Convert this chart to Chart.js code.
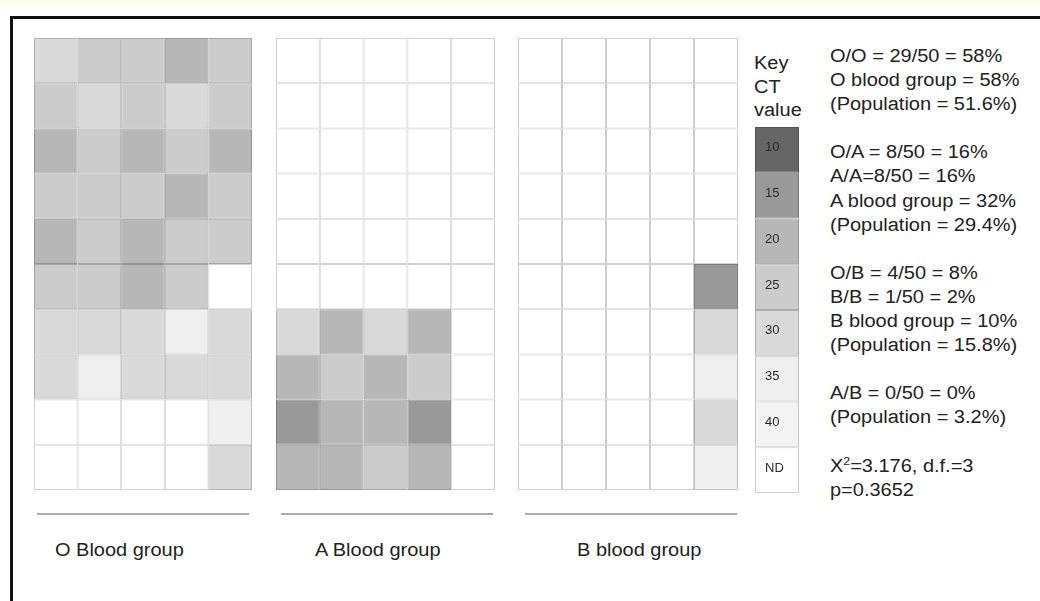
<!DOCTYPE html>
<html>
<head>
<meta charset="utf-8">
<script src="https://cdn.jsdelivr.net/npm/chart.js@4.4.1/dist/chart.umd.min.js"></script>
<style>
  html, body { margin:0; padding:0; background:#fff; width:1040px; height:601px; overflow:hidden; }
  #band { position:absolute; left:0; top:0; width:1040px; height:4px; background:#fffbe9; }
  #frame { position:absolute; left:10px; top:16px; width:1100px; height:700px; border:3px solid #111; box-sizing:border-box; }
  canvas { position:absolute; }
  .txt { position:absolute; font-family:"Liberation Sans", Arial, sans-serif; font-size:18px; color:#222;
         transform:scaleX(1.11); transform-origin:0 0; white-space:nowrap; }
  .rule { position:absolute; height:2px; background:#a8a8a8; }
  sup { font-size:11px; vertical-align:7px; line-height:0; }
</style>
</head>
<body>
<div id="band"></div>
<div id="frame"></div>

<canvas id="gO" width="218" height="452" style="left:34px;top:38px"></canvas>
<canvas id="gA" width="219" height="452" style="left:276px;top:38px"></canvas>
<canvas id="gB" width="220" height="452" style="left:518px;top:38px"></canvas>
<canvas id="gKey" width="44" height="366" style="left:755px;top:127px"></canvas>

<div class="rule" style="left:37px;top:513px;width:212px"></div>
<div class="rule" style="left:281px;top:513px;width:212px"></div>
<div class="rule" style="left:525px;top:513px;width:212px"></div>

<div class="txt" style="left:55px;top:538px;line-height:24px">O Blood group</div>
<div class="txt" style="left:315px;top:538px;line-height:24px">A Blood group</div>
<div class="txt" style="left:577px;top:538px;line-height:24px">B blood group</div>

<div class="txt" id="keyTitle" style="left:754px;top:52px;line-height:23.5px"></div>
<div class="txt" id="stats" style="left:830px;top:44px;line-height:24.1px"></div>

<script>
// ---- data ----
const columns = ['1', '2', '3', '4', '5'];
const keyTitle = ['Key', 'CT', 'value'];
const keyValues = [10, 15, 20, 25, 30, 35, 40, 'ND'];
const keyColors = ['#666666', '#999999', '#b7b7b7', '#cccccc', '#d9d9d9', '#efefef', '#f3f3f3', '#ffffff'];

// CT value per cell, rows listed top to bottom; null = ND
const oGroup = [
  [30, 25, 25, 20, 25],
  [25, 30, 25, 30, 25],
  [20, 25, 20, 25, 20],
  [25, 25, 25, 20, 25],
  [20, 25, 20, 25, 25],
  [25, 25, 20, 25, null],
  [30, 30, 30, 35, 30],
  [30, 35, 30, 30, 30],
  [null, null, null, null, 35],
  [null, null, null, null, 30]
];
const aGroup = [
  [null, null, null, null, null],
  [null, null, null, null, null],
  [null, null, null, null, null],
  [null, null, null, null, null],
  [null, null, null, null, null],
  [null, null, null, null, null],
  [30, 20, 30, 20, null],
  [20, 25, 20, 25, null],
  [15, 20, 20, 15, null],
  [20, 20, 25, 20, null]
];
const bGroup = [
  [null, null, null, null, null],
  [null, null, null, null, null],
  [null, null, null, null, null],
  [null, null, null, null, null],
  [null, null, null, null, null],
  [null, null, null, null, 15],
  [null, null, null, null, 30],
  [null, null, null, null, 35],
  [null, null, null, null, 30],
  [null, null, null, null, 35]
];

const statsLines = [
  'O/O = 29/50 = 58%',
  'O blood group = 58%',
  '(Population = 51.6%)',
  '',
  'O/A = 8/50 = 16%',
  'A/A=8/50 = 16%',
  'A blood group = 32%',
  '(Population = 29.4%)',
  '',
  'O/B = 4/50 = 8%',
  'B/B = 1/50 = 2%',
  'B blood group = 10%',
  '(Population = 15.8%)',
  '',
  'A/B = 0/50 = 0%',
  '(Population = 3.2%)',
  '',
  'X<sup>2</sup>=3.176, d.f.=3',
  'p=0.3652'
];

// ---- helpers ----
function colorFor(v) {
  const i = keyValues.indexOf(v === null ? 'ND' : v);
  return keyColors[i >= 0 ? i : keyColors.length - 1];
}
function borderFor(v) {
  const c = colorFor(v);
  const g = parseInt(c.slice(1, 3), 16);
  const d = Math.round(g * 0.81);
  return 'rgb(' + d + ',' + d + ',' + d + ')';
}

function gridChart(id, rows) {
  const datasets = rows.slice().reverse().map(row => ({
    data: row.map(() => 1),
    backgroundColor: row.map(colorFor),
    borderColor: row.map(borderFor),
    borderWidth: 1,
    borderSkipped: false,
    inflateAmount: 0,
    categoryPercentage: 1,
    barPercentage: 1
  }));
  return new Chart(document.getElementById(id), {
    type: 'bar',
    data: { labels: columns, datasets },
    options: {
      responsive: false,
      animation: false,
      events: [],
      layout: { padding: 0 },
      plugins: { legend: { display: false }, tooltip: { enabled: false } },
      scales: {
        x: { stacked: true, display: false },
        y: { stacked: true, display: false, min: 0, max: rows.length }
      }
    }
  });
}

gridChart('gO', oGroup);
gridChart('gA', aGroup);
gridChart('gB', bGroup);

// key
const keyLabelPlugin = {
  id: 'keyLabels',
  afterDatasetsDraw(chart) {
    const ctx = chart.ctx;
    ctx.save();
    ctx.font = '13px "Liberation Sans", Arial, sans-serif';
    ctx.fillStyle = '#2a2a2a';
    ctx.textBaseline = 'middle';
    ctx.textAlign = 'left';
    chart.data.datasets.forEach((ds, i) => {
      const bar = chart.getDatasetMeta(i).data[0];
      const yc = (bar.y + bar.base) / 2 - 2;
      ctx.fillText(ds.label, bar.x - bar.width / 2 + 10, yc);
    });
    ctx.restore();
  }
};
new Chart(document.getElementById('gKey'), {
  type: 'bar',
  data: {
    labels: ['key'],
    datasets: keyValues.slice().reverse().map(v => ({
      label: String(v),
      data: [1],
      backgroundColor: colorFor(v),
      borderColor: borderFor(v),
      borderWidth: 1,
      borderSkipped: false,
      inflateAmount: 0,
      categoryPercentage: 1,
      barPercentage: 1
    }))
  },
  options: {
    responsive: false,
    animation: false,
    events: [],
    layout: { padding: 0 },
    plugins: { legend: { display: false }, tooltip: { enabled: false } },
    scales: {
      x: { stacked: true, display: false },
      y: { stacked: true, display: false, min: 0, max: keyValues.length }
    }
  },
  plugins: [keyLabelPlugin]
});

document.getElementById('keyTitle').innerHTML = keyTitle.join('<br>');
document.getElementById('stats').innerHTML = statsLines.map(s => s === '' ? '&nbsp;' : s).join('<br>');
</script>
</body>
</html>
